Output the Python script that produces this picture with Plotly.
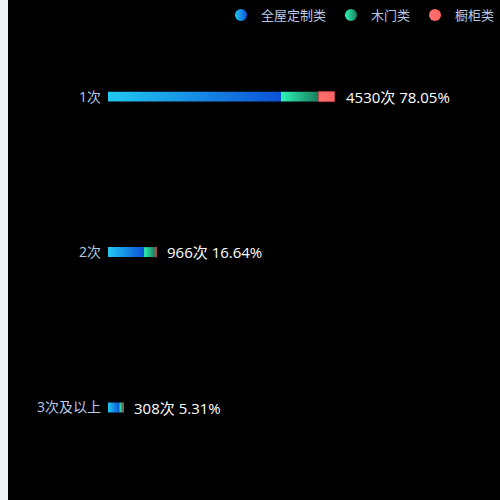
import plotly.graph_objects as go

# --- datos ---
categorias = ["1次", "2次", "3次及以上"]
series = ["全屋定制类", "木门类", "橱柜类"]
quanwu = [3460, 722, 228]
mumen = [752, 222, 74]
chugui = [318, 22, 6]

# colores degradados por serie (inicio -> fin)
GRADIENTES = {
    "全屋定制类": ("#22c8f2", "#0b52d6"),
    "木门类": ("#2ef5b8", "#1a7c5c"),
    "橱柜类": ("#ff7070", "#ff6464"),
}
BORDES = {"全屋定制类": 0, "木门类": 0, "橱柜类": 1}

W, H = 492, 500
M_L = 100
MEDIO = 0.032  # media altura de la barra (unidades de categoría)
FUENTE = "Open Sans, Noto Sans CJK SC"

totales = [a + b + c for a, b, c in zip(quanwu, mumen, chugui)]
suma = sum(totales)

fig = go.Figure()

base = [0] * len(categorias)
for nombre, valores in zip(series, [quanwu, mumen, chugui]):
    c0, c1 = GRADIENTES[nombre]
    for i, v in enumerate(valores):
        x0, x1 = base[i], base[i] + v
        fig.add_trace(go.Scatter(
            x=[x0, x1, x1, x0, x0],
            y=[i - MEDIO, i - MEDIO, i + MEDIO, i + MEDIO, i - MEDIO],
            mode="lines", fill="toself",
            fillgradient=dict(type="horizontal", colorscale=[[0, c0], [1, c1]]),
            line=dict(width=BORDES[nombre], color="#b84545"),
            hoverinfo="skip", showlegend=False,
        ))
        base[i] = x1
    # entrada de leyenda (círculo)
    fig.add_trace(go.Scatter(
        x=[None], y=[None], mode="markers", name=nombre,
        marker=dict(symbol="circle", size=12, color=c0,
                    gradient=dict(type="horizontal", color=c1)),
    ))

# etiquetas de valor
for i, t in enumerate(totales):
    fig.add_annotation(
        x=t, y=i, xanchor="left", xshift=9, showarrow=False,
        text=f"{t}次 {t / suma * 100:.2f}%",
        font=dict(size=15, color="#ffffff"),
    )

fig.update_layout(
    width=W, height=H,
    margin=dict(l=M_L, r=0, t=0, b=0),
    paper_bgcolor="#000000", plot_bgcolor="#000000",
    font=dict(family=FUENTE, color="#b8c8e6", size=13),
    legend=dict(orientation="h", x=1.0, xanchor="right", y=1 - 11 / H, yanchor="middle",
                font=dict(size=13, color="#b8c8e6"), bgcolor="rgba(0,0,0,0)",
                itemwidth=30, tracegroupgap=0),
    xaxis=dict(range=[0, 7840], visible=False, fixedrange=True),
    yaxis=dict(range=[2.595, -0.596], tickvals=[0, 1, 2], ticktext=categorias,
               showgrid=False, zeroline=False, showline=False, ticks="",
               ticklabelstandoff=6, tickfont=dict(size=14, color="#b8c8e6")),
)

# la página: franja gris clara a la izquierda, sin margen arriba
fig.write_html(
    "out.html",
    post_script="document.body.style.margin='0 0 0 8px';"
                "document.body.style.background='#f2f3f8';",
)
